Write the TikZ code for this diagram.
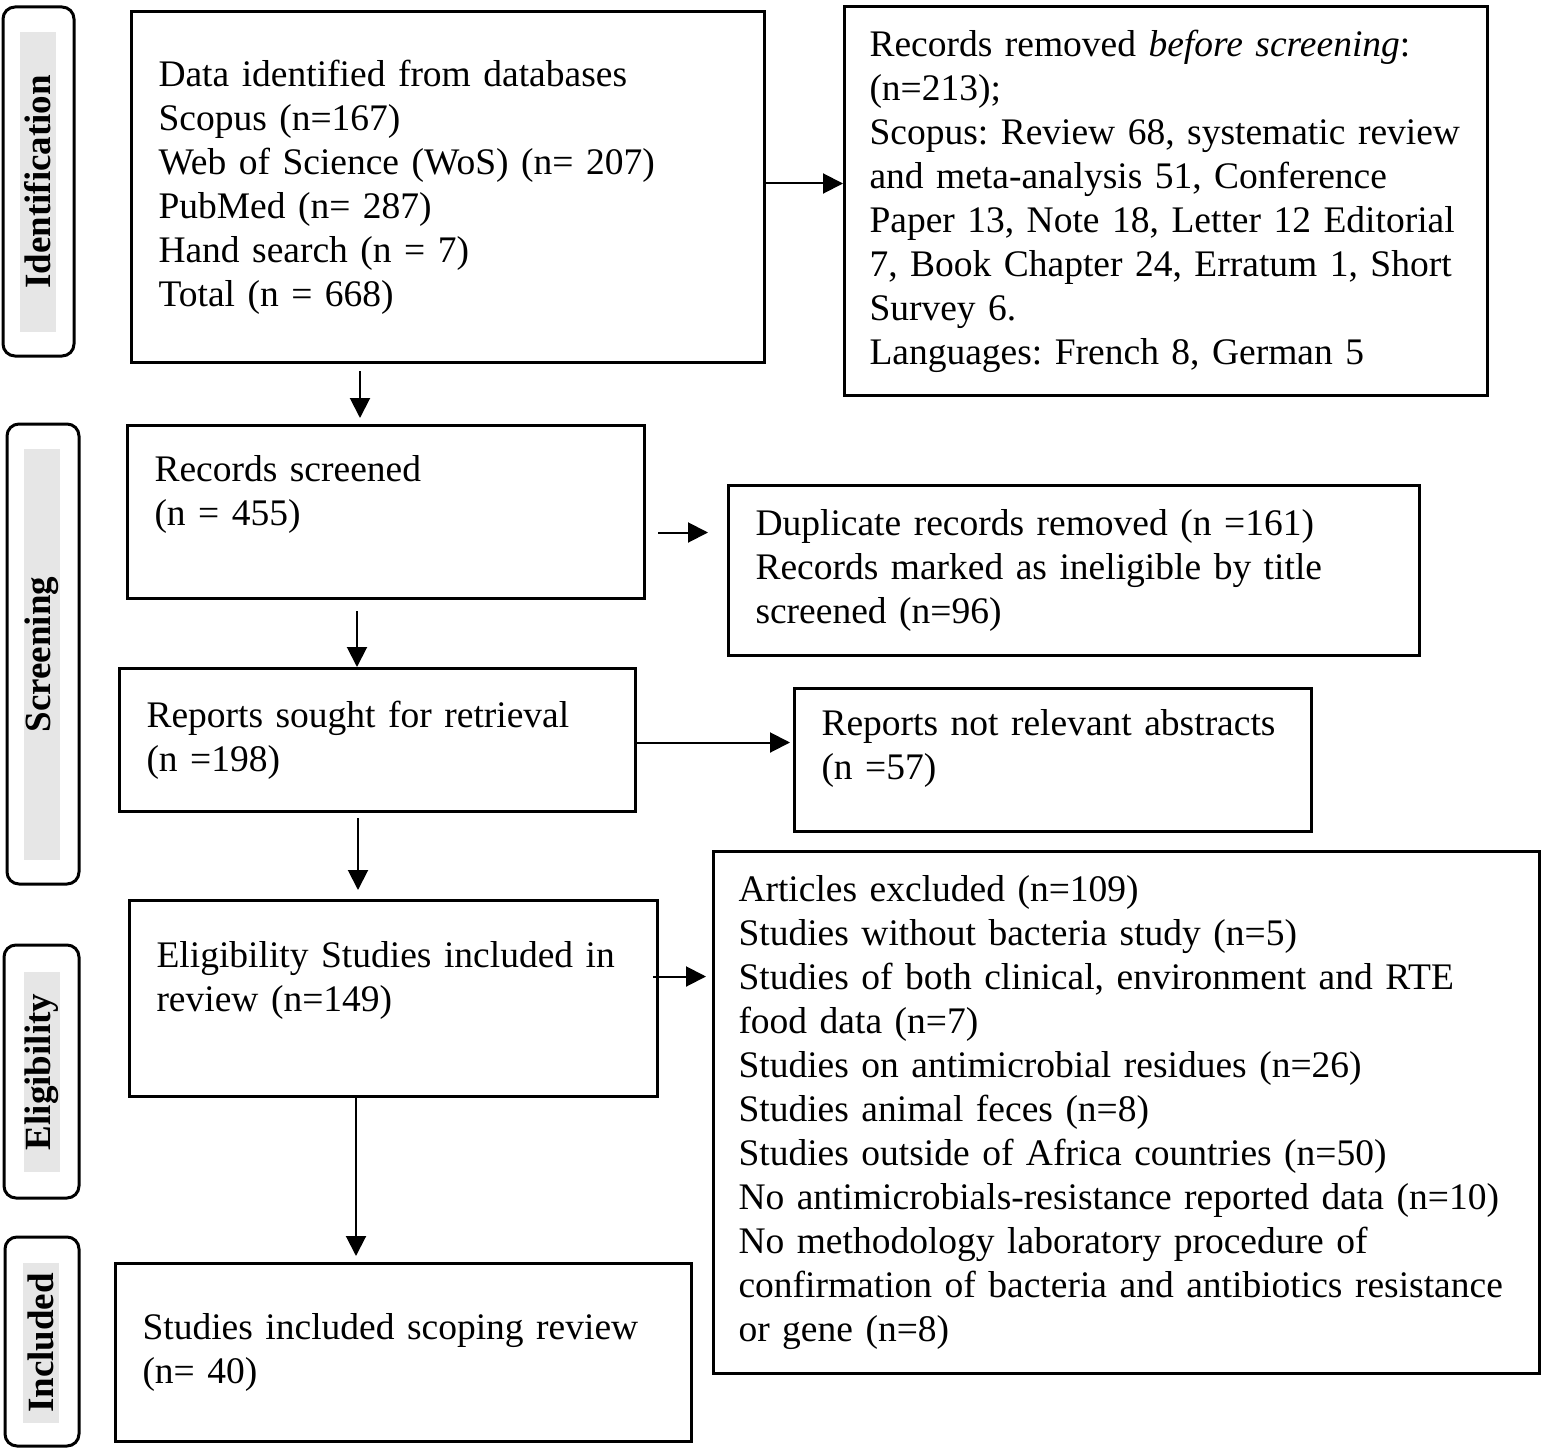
\documentclass[tikz,border=0pt]{standalone}
\usepackage{fontspec}
\setmainfont{Liberation Serif}
\usetikzlibrary{arrows.meta}
\definecolor{phasegray}{RGB}{230,230,230}
\frenchspacing
\hyphenpenalty=10000
\exhyphenpenalty=10000
\begin{document}
\begin{tikzpicture}[x=1pt, y=-1pt,
    box/.style={draw, line width=3pt, anchor=north west, align=left,
      inner xsep=27pt, inner ysep=4pt, font=\fontsize{37.5}{44}\selectfont},
    phase/.style={draw, line width=3pt, rounded corners=12pt, inner sep=0pt},
    phasetxt/.style={fill=phasegray, rotate=90, inner sep=0pt,
      minimum height=36pt, font=\fontsize{37}{40}\selectfont\bfseries},
    flow/.style={-{Triangle[length=20pt,width=20pt]}, line width=2pt}]
  \useasboundingbox (0,0) rectangle (1542,1450);
  % phases on the left
  \node[phase, minimum width=71pt, minimum height=349pt] (ph1) at (38.5,181.5) {};
  \node[phasetxt, minimum width=300pt] (ph1txt) at (38,182) {Identification};
  \node[phase, minimum width=72pt, minimum height=460pt] (ph2) at (43,654) {};
  \node[phasetxt, minimum width=411pt] (ph2txt) at (41.5,654.5) {Screening};
  \node[phase, minimum width=75pt, minimum height=253pt] (ph3) at (41.5,1071.5) {};
  \node[phasetxt, minimum width=200pt] (ph3txt) at (42,1072) {Eligibility};
  \node[phase, minimum width=74pt, minimum height=209pt] (ph4) at (42,1341.5) {};
  \node[phasetxt, minimum width=160pt] (ph4txt) at (41,1343) {Included};
  % boxes
  \node[box, text width=579pt, minimum height=351pt] (ident) at (130,10)
    {Data identified from databases\\Scopus (n=167)\\Web of Science (WoS) (n= 207)\\PubMed (n= 287)\\Hand search (n = 7)\\Total (n = 668)};
  \node[box, inner xsep=25pt, text width=593pt, minimum height=389pt] (removed) at (843,5)
    {Records removed \textit{before screening}:\\(n=213);\\Scopus: Review 68, systematic review\\and meta-analysis 51, Conference\\Paper 13, Note 18, Letter 12 Editorial\\7, Book Chapter 24, Erratum 1, Short\\Survey 6.\\Languages: French 8, German 5};
  \node[box, text width=463pt, minimum height=173pt] (screened) at (126,424)
    {Records screened\\(n = 455)\\\mbox{}};
  \node[box, text width=637pt, minimum height=170pt] (dup) at (727,484)
    {Duplicate records removed (n =161)\\Records marked as ineligible by title\\screened (n=96)};
  \node[box, text width=462pt, minimum height=143pt] (sought) at (118,667)
    {Reports sought for retrieval\\(n =198)};
  \node[box, text width=463pt, minimum height=143pt] (notrel) at (793,687)
    {Reports not relevant abstracts\\(n =57)\\[-12pt]\mbox{}};
  \node[box, text width=474pt, minimum height=196pt] (elig) at (128,899)
    {Eligibility Studies included in\\review (n=149)\\\mbox{}};
  \node[box, inner xsep=25pt, text width=776pt, minimum height=522pt] (excl) at (712,850)
    {Articles excluded (n=109)\\Studies without bacteria study (n=5)\\Studies of both clinical, environment and RTE\\food data (n=7)\\Studies on antimicrobial residues (n=26)\\Studies animal feces (n=8)\\Studies outside of Africa countries (n=50)\\No antimicrobials-resistance reported data (n=10)\\No methodology laboratory procedure of\\confirmation of bacteria and antibiotics resistance\\or gene (n=8)};
  \node[box, text width=522pt, minimum height=178pt] (incl) at (114,1262)
    {Studies included scoping review\\(n= 40)};
  % arrows
  \draw[flow] ([yshift=3.5pt]ident.east) -- ([yshift=3.5pt]ident.east -| removed.west);
  \draw[flow, shorten <=7pt, shorten >=6pt] ([xshift=230pt]ident.south west) -- ([xshift=230pt]ident.south west |- screened.north);
  \draw[flow, shorten <=12pt, shorten >=19pt] ([yshift=-20.5pt]screened.east) -- ([yshift=-20.5pt]screened.east -| dup.west);
  \draw[flow, shorten <=11pt] ([xshift=231pt]screened.south west) -- ([xshift=231pt]screened.south west |- sought.north);
  \draw[flow, shorten >=3pt] ([yshift=-2.5pt]sought.east) -- ([yshift=-2.5pt]sought.east -| notrel.west);
  \draw[flow, shorten <=5pt, shorten >=9pt] ([xshift=240pt]sought.south west) -- ([xshift=240pt]sought.south west |- elig.north);
  \draw[flow, shorten <=-6pt, shorten >=6pt] ([yshift=22pt]elig.east) -- ([yshift=22pt]elig.east -| excl.west);
  \draw[flow, shorten >=6pt] ([xshift=228pt]elig.south west) -- ([xshift=228pt]elig.south west |- incl.north);
\end{tikzpicture}
\end{document}
